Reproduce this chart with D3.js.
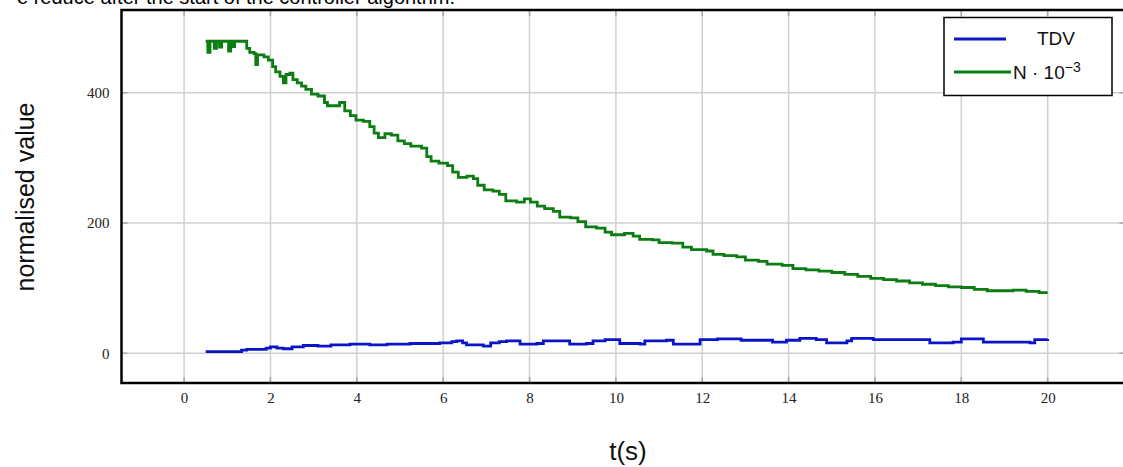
<!DOCTYPE html>
<html>
<head>
<meta charset="utf-8">
<script src="https://cdn.jsdelivr.net/npm/d3@7"></script>
<style>
  body { margin: 0; background: #fff; overflow: hidden; }
  svg { display: block; }
</style>
</head>
<body>
<script>
// tick labels
var xTicks = [0, 2, 4, 6, 8, 10, 12, 14, 16, 18, 20];
var yTicks = [0, 200, 400];

// N * 10^-3 (green)
var nTime = [0.50, 0.55, 0.60, 0.70, 0.75, 0.82, 0.87, 1.03, 1.08, 1.12, 1.17, 1.45, 1.52, 1.62, 1.66, 1.70, 1.85, 1.95,
  2.05, 2.12, 2.22, 2.30, 2.36, 2.45, 2.52, 2.62, 2.72, 2.82, 2.95, 3.10, 3.25, 3.32, 3.60, 3.72, 3.85, 3.98,
  4.15, 4.30, 4.40, 4.50, 4.65, 4.80, 4.95, 5.10, 5.25, 5.50, 5.62, 5.72, 5.90, 6.10, 6.22, 6.35, 6.55, 6.70,
  6.80, 6.95, 7.15, 7.30, 7.45, 7.70, 7.88, 8.02, 8.18, 8.35, 8.55, 8.70, 8.95, 9.12, 9.30, 9.55, 9.75, 9.90,
  10.20, 10.40, 10.55, 10.85, 11.00, 11.30, 11.55, 11.75, 12.10, 12.25, 12.50, 12.80, 13.00, 13.30, 13.50, 13.85,
  14.10, 14.40, 14.70, 15.00, 15.30, 15.60, 15.90, 16.20, 16.50, 16.80, 17.10, 17.40, 17.70, 18.00, 18.30, 18.60,
  18.90, 19.20, 19.50, 19.80, 20.00];
var nValue = [479, 462, 479, 468, 479, 470, 479, 464, 479, 471, 479, 468, 462, 460, 443, 458, 455, 450,
  440, 432, 425, 415, 428, 430, 420, 415, 410, 405, 398, 395, 385, 380, 385, 372, 365, 358,
  356, 348, 338, 331, 337, 335, 326, 322, 318, 315, 302, 295, 292, 288, 278, 270, 272, 268,
  258, 251, 249, 244, 234, 232, 237, 232, 226, 222, 218, 209, 208, 202, 194, 192, 186, 182,
  184, 180, 175, 174, 170, 169, 163, 159, 157, 152, 150, 148, 143, 141, 137, 135,
  130, 128, 126, 124, 121, 118, 115, 113, 111, 108, 106, 104, 102, 101, 98, 96,
  96, 97, 95, 93, 93];

// TDV (blue)
var tdvTime = [0.50, 1.33, 1.45, 1.90, 2.00, 2.15, 2.30, 2.50, 2.76, 3.10, 3.40, 3.84, 4.30, 4.70, 5.23, 5.60, 5.92,
  6.20, 6.31, 6.45, 6.54, 6.93, 7.10, 7.30, 7.47, 7.78, 8.17, 8.32, 8.70, 8.93, 9.32, 9.47, 9.75, 10.09, 10.56,
  10.67, 11.17, 11.33, 11.79, 11.95, 12.35, 12.90, 13.40, 13.63, 13.95, 14.26, 14.64, 14.88, 15.35, 15.46, 15.96,
  16.50, 17.04, 17.27, 17.81, 18.00, 18.37, 18.51, 19.00, 19.59, 19.70, 20.00];
var tdvValue = [2.5, 5, 6, 8, 10, 8, 7, 10, 12, 11, 13, 14, 13, 14, 15, 15, 16,
  18, 19, 16, 13, 11, 16, 18, 19, 14, 15, 19, 19, 14, 15, 19, 21, 15, 14,
  19, 20, 14, 14, 21, 22, 20, 20, 17, 20, 23, 21, 16, 19, 23, 21,
  21, 21, 16, 17, 22, 22, 17, 17, 16, 21, 22];

var svg = d3.select('body').append('svg')
  .attr('width', 1123)
  .attr('height', 467);

var plotLeft = 121.5, plotTop = 10, plotBottom = 383, plotRight = 1125.4;

var x = d3.scaleLinear().domain([-1.45, 21.8]).range([plotLeft, plotRight]);
var y = d3.scaleLinear().domain([-45.6, 527]).range([plotBottom, plotTop]);

// caption cut off at the top
svg.append('text')
  .attr('x', 455)
  .attr('y', 3.5)
  .attr('text-anchor', 'end')
  .attr('font-family', 'Liberation Sans, Arial, sans-serif')
  .attr('font-size', 20)
  .attr('fill', '#000')
  .text('e reduce after the start of the controller algorithm.');

// grid
svg.append('g').selectAll('line')
  .data(xTicks)
  .join('line')
  .attr('x1', d => x(d)).attr('x2', d => x(d))
  .attr('y1', plotTop).attr('y2', plotBottom)
  .attr('stroke', '#d0d0d0')
  .attr('stroke-width', 1.5);

svg.append('g').selectAll('line')
  .data(yTicks)
  .join('line')
  .attr('x1', plotLeft).attr('x2', plotRight)
  .attr('y1', d => y(d)).attr('y2', d => y(d))
  .attr('stroke', '#d0d0d0')
  .attr('stroke-width', 1.5);

// small inward ticks
var tickG = svg.append('g').attr('stroke', '#a8a8a8').attr('stroke-width', 1.5);
xTicks.forEach(function(d) {
  tickG.append('line').attr('x1', x(d)).attr('x2', x(d)).attr('y1', plotBottom).attr('y2', plotBottom - 6);
  tickG.append('line').attr('x1', x(d)).attr('x2', x(d)).attr('y1', plotTop).attr('y2', plotTop + 6);
});
yTicks.forEach(function(d) {
  tickG.append('line').attr('x1', plotLeft).attr('x2', plotLeft + 6).attr('y1', y(d)).attr('y2', y(d));
  tickG.append('line').attr('x1', plotRight).attr('x2', plotRight - 6).attr('y1', y(d)).attr('y2', y(d));
});

// axes (labels only)
var xAxis = svg.append('g')
  .attr('transform', 'translate(0,' + plotBottom + ')')
  .call(d3.axisBottom(x).tickValues(xTicks).tickSize(0).tickPadding(9).tickFormat(d3.format('d')));
var yAxis = svg.append('g')
  .attr('transform', 'translate(' + plotLeft + ',0)')
  .call(d3.axisLeft(y).tickValues(yTicks).tickSize(0).tickPadding(12).tickFormat(d3.format('d')));

[xAxis, yAxis].forEach(function(a) {
  a.attr('font-size', 15).attr('font-family', 'Liberation Serif, Times New Roman, serif');
  a.select('.domain').remove();
  a.selectAll('text').attr('fill', '#222');
});

// series
var line = d3.line()
  .x(d => x(d[0]))
  .y(d => y(d[1]))
  .curve(d3.curveStepAfter);

var nData = nTime.map((t, i) => [t, nValue[i]]);
var tdvData = tdvTime.map((t, i) => [t, tdvValue[i]]);

svg.append('path')
  .attr('d', line(tdvData))
  .attr('fill', 'none')
  .attr('stroke', '#0a14c8')
  .attr('stroke-width', 2.8);

svg.append('path')
  .attr('d', line(nData))
  .attr('fill', 'none')
  .attr('stroke', '#0b7d12')
  .attr('stroke-width', 2.8);

// frame
svg.append('path')
  .attr('d', 'M' + plotRight + ',' + plotTop + 'H' + plotLeft + 'V' + plotBottom + 'H' + plotRight)
  .attr('fill', 'none')
  .attr('stroke', '#000')
  .attr('stroke-width', 2.5);

// axis titles
svg.append('text')
  .attr('transform', 'translate(34,197) rotate(-90)')
  .attr('text-anchor', 'middle')
  .attr('font-family', 'Liberation Sans, Arial, sans-serif')
  .attr('font-size', 25)
  .attr('fill', '#111')
  .text('normalised value');

svg.append('text')
  .attr('x', 628)
  .attr('y', 460)
  .attr('text-anchor', 'middle')
  .attr('font-family', 'Liberation Sans, Arial, sans-serif')
  .attr('font-size', 26)
  .attr('fill', '#111')
  .text('t(s)');

// legend
var legend = svg.append('g');
legend.append('rect')
  .attr('x', 944).attr('y', 17.5)
  .attr('width', 168).attr('height', 78)
  .attr('fill', '#fff')
  .attr('stroke', '#000')
  .attr('stroke-width', 1.5);

legend.append('line')
  .attr('x1', 954).attr('x2', 1006).attr('y1', 39).attr('y2', 39)
  .attr('stroke', '#0a14c8').attr('stroke-width', 2.8);
legend.append('text')
  .attr('x', 1056).attr('y', 45)
  .attr('text-anchor', 'middle')
  .attr('font-family', 'Liberation Sans, Arial, sans-serif')
  .attr('font-size', 19)
  .attr('fill', '#111')
  .text('TDV');

legend.append('line')
  .attr('x1', 954).attr('x2', 1011).attr('y1', 72).attr('y2', 72)
  .attr('stroke', '#0b7d12').attr('stroke-width', 2.8);
var nLabel = legend.append('text')
  .attr('x', 1013).attr('y', 79)
  .attr('font-family', 'Liberation Sans, Arial, sans-serif')
  .attr('font-size', 19)
  .attr('fill', '#111');
nLabel.append('tspan').text('N \u00b7 10');
nLabel.append('tspan').attr('dy', -7).attr('font-size', 14).text('\u22123');
</script>
</body>
</html>
